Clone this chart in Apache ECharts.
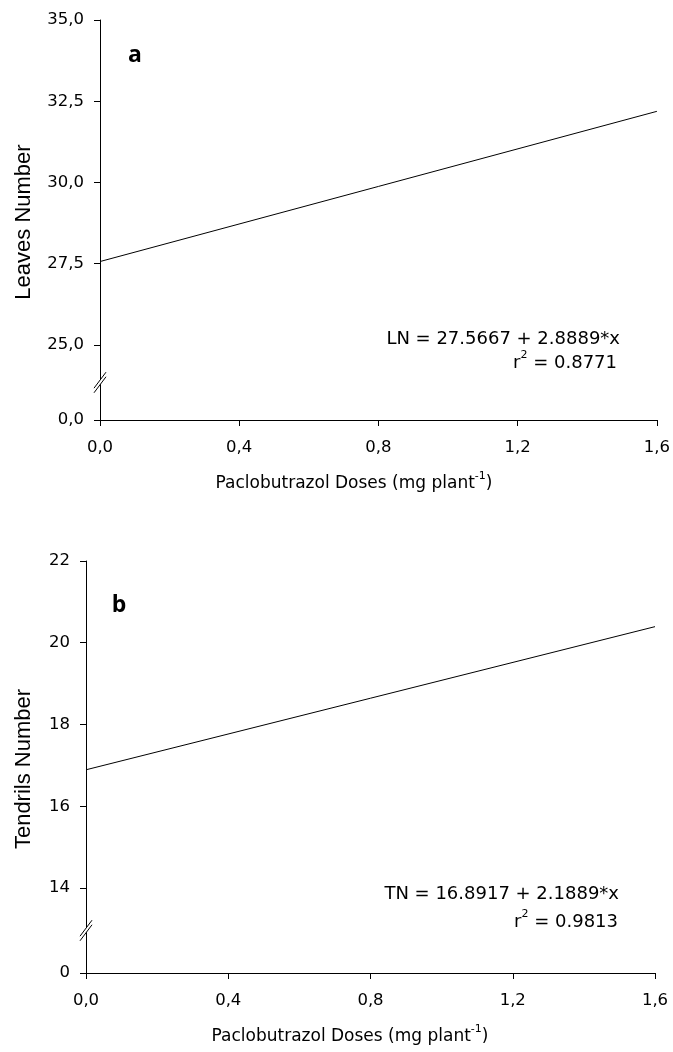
<!DOCTYPE html>
<html><head><meta charset="utf-8">
<script src="https://cdn.jsdelivr.net/npm/echarts@6/dist/echarts.min.js"></script>
<style>html,body{margin:0;padding:0;background:#fff}#c{width:673px;height:1052px}</style>
</head><body><div id="c"></div>
<script>
// ---- data ----
const xTicks = [0, 0.4, 0.8, 1.2, 1.6];
const doses = [0, 1.6];
const leavesFit = [27.5667, 32.1889];
const tendrilsFit = [16.8917, 20.3939];
const yTicksA = [0, 25, 27.5, 30, 32.5, 35];
const yTicksB = [0, 14, 16, 18, 20, 22];
const eqA = ['LN = 27.5667 + 2.8889*x', '0.8771'];
const eqB = ['TN = 16.8917 + 2.1889*x', '0.9813'];
const yTitles = ['Leaves Number', 'Tendrils Number'];
const xTitle = ['Paclobutrazol Doses (mg plant', '-1', ')'];
const panelLetters = ['a', 'b'];

// ---- layout / styling ----
const FONT = 'DejaVu Sans';
const TICK_FS = 16.5;
const zeroA = 22.69, zeroB = 11.92; // display position of 0 below the axis break
const disp = (v, z) => (v === 0 ? z : v);
const fmtA = v => Math.abs(v - zeroA) < 1e-6 ? '0,0' : v.toFixed(1).replace('.', ',');
const fmtB = v => Math.abs(v - zeroB) < 1e-6 ? '0' : String(Math.round(v));
const fmtX = v => v.toFixed(1).replace('.', ',');

function makeX(gi) {
  return {
    type: 'value', gridIndex: gi, min: xTicks[0], max: xTicks[xTicks.length - 1], interval: 0.4,
    axisLine: { show: true, onZero: false, lineStyle: { color: '#000', width: 1 } },
    axisTick: { show: true, length: 6, lineStyle: { color: '#000', width: 1 } },
    axisLabel: { formatter: fmtX, color: '#000', fontFamily: FONT, fontSize: TICK_FS, margin: 19 },
    splitLine: { show: false }
  };
}
function makeY(gi, zero, ticks, fmt) {
  const vals = ticks.map(t => disp(t, zero));
  return {
    type: 'value', gridIndex: gi, min: zero, max: ticks[ticks.length - 1],
    axisLine: { show: true, onZero: false, lineStyle: { color: '#000', width: 1 } },
    axisTick: { show: true, length: 6, customValues: vals, lineStyle: { color: '#000', width: 1 } },
    axisLabel: { customValues: vals, formatter: fmt, color: '#000', fontFamily: FONT, fontSize: TICK_FS, margin: 16 },
    splitLine: { show: false }
  };
}

const option = {
  animation: false,
  backgroundColor: '#fff',
  grid: [
    { left: 100, top: 20, width: 557, height: 400 },
    { left: 86, top: 561, width: 569, height: 412 }
  ],
  xAxis: [makeX(0), makeX(1)],
  yAxis: [makeY(0, zeroA, yTicksA, fmtA), makeY(1, zeroB, yTicksB, fmtB)],
  series: [
    { type: 'line', xAxisIndex: 0, yAxisIndex: 0, data: doses.map((d, i) => [d, leavesFit[i]]),
      symbol: 'none', silent: true, lineStyle: { color: '#000', width: 1 } },
    { type: 'line', xAxisIndex: 1, yAxisIndex: 1, data: doses.map((d, i) => [d, tendrilsFit[i]]),
      symbol: 'none', silent: true, lineStyle: { color: '#000', width: 1 } }
  ]
};

const chart = echarts.init(document.getElementById('c'), null, { renderer: 'canvas' });
chart.setOption(option);

function txt(x, y, text, extra, rich, rot) {
  const st = Object.assign({
    text: text, x: 0, y: 0, fill: '#000', fontFamily: FONT, fontSize: 17,
    align: 'center', verticalAlign: 'middle', textAlign: 'center', textVerticalAlign: 'middle'
  }, extra || {});
  if (rich) st.rich = rich;
  return { type: 'text', x: x, y: y, rotation: rot || 0, silent: true, style: st, z: 100 };
}
function breakMark(gi, zero, firstTick) {
  const p0 = chart.convertToPixel({ gridIndex: gi }, [0, zero]);
  const p1 = chart.convertToPixel({ gridIndex: gi }, [0, firstTick]);
  const cx = p0[0], cy = (p0[1] + p1[1]) / 2;
  const dx = 6, dy = 8, g = 2.3;
  return [
    { type: 'polygon', silent: true, z: 90, shape: { points: [[cx - dx, cy + dy - g], [cx + dx, cy - dy - g], [cx + dx, cy - dy + g], [cx - dx, cy + dy + g]] },
      style: { fill: '#fff', stroke: null } },
    { type: 'line', silent: true, z: 91, shape: { x1: cx - dx, y1: cy + dy - g, x2: cx + dx, y2: cy - dy - g }, style: { stroke: '#000', lineWidth: 1 } },
    { type: 'line', silent: true, z: 91, shape: { x1: cx - dx, y1: cy + dy + g, x2: cx + dx, y2: cy - dy + g }, style: { stroke: '#000', lineWidth: 1 } }
  ];
}

const EQ_FS = 18;
const richEq = {
  n: { fontFamily: FONT, fontSize: EQ_FS, fill: '#000', lineHeight: 27 },
  s: { fontFamily: FONT, fontSize: 11, fill: '#000', lineHeight: 13, verticalAlign: 'top' }
};
const TITLE_FS = 17;
const richTitle = {
  n: { fontFamily: FONT, fontSize: TITLE_FS, fill: '#000', lineHeight: 26 },
  s: { fontFamily: FONT, fontSize: 11, fill: '#000', lineHeight: 13, verticalAlign: 'top' }
};
const xTitleRich = '{n|' + xTitle[0] + '}{s|' + xTitle[1] + '}{n|' + xTitle[2] + '}';
const letterStyle = { fontFamily: 'Open Sans', fontWeight: 'bold', fontSize: 23 };
const yTitleStyle = { fontFamily: 'Liberation Sans', fontSize: 22 };

const graphics = []
  .concat(breakMark(0, zeroA, yTicksA[1]))
  .concat(breakMark(1, zeroB, yTicksB[1]))
  .concat([
    txt(135, 55, panelLetters[0], letterStyle),
    txt(119, 605, panelLetters[1], letterStyle),
    txt(620, 339, '{n|' + eqA[0] + '}', { align: 'right', textAlign: 'right', fontSize: EQ_FS }, richEq),
    txt(617, 363, '{n|r}{s|2}{n| = ' + eqA[1] + '}', { align: 'right', textAlign: 'right', fontSize: EQ_FS }, richEq),
    txt(619, 894, '{n|' + eqB[0] + '}', { align: 'right', textAlign: 'right', fontSize: EQ_FS }, richEq),
    txt(618, 922, '{n|r}{s|2}{n| = ' + eqB[1] + '}', { align: 'right', textAlign: 'right', fontSize: EQ_FS }, richEq),
    txt(354, 484, xTitleRich, { fontSize: TITLE_FS }, richTitle),
    txt(350, 1037, xTitleRich, { fontSize: TITLE_FS }, richTitle),
    txt(24, 222, yTitles[0], yTitleStyle, null, Math.PI / 2),
    txt(24, 769, yTitles[1], yTitleStyle, null, Math.PI / 2)
  ]);
chart.setOption({ graphic: graphics });
</script>
</body></html>
